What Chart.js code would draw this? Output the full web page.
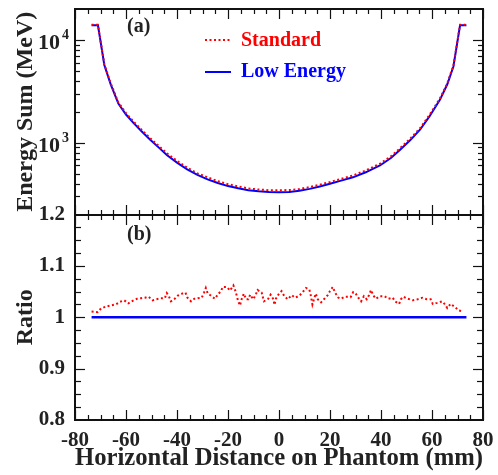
<!DOCTYPE html>
<html><head><meta charset="utf-8">
<script src="https://cdn.jsdelivr.net/npm/chart.js@4.4.0/dist/chart.umd.min.js"></script>
<style>html,body{margin:0;padding:0;background:#fff}#wrap{width:498px;height:475px;position:relative}</style>
</head><body><div id="wrap"><canvas id="c" width="498" height="475"></canvas></div>
<script>
// ---- data ----
const energyX = [-73.5,-71,-68.5,-66,-63,-60,-57,-54,-50.5,-47,-44,-40,-36,-32,-28,-24,-20,-16,-12,-8,-4,0,4,8,12,16,20,24,29,34,39.6,44,47.5,51.5,55.3,59,63.1,66,68.4,71,73.5];
const energyLow = [13900,13900,5700,3700,2400,1880,1550,1300,1070,890,760,640,550,485,440,405,378,360,345,336,331,330,332,340,355,375,398,425,460,515,600,712,855,1060,1337,1800,2610,3700,5510,13900,13900];
const energyStd = [14050,14050,5800,3790,2470,1940,1600,1345,1105,922,790,665,572,503,460,422,394,375,359,350,345,344,346,354,370,390,414,442,479,536,624,740,885,1097,1382,1860,2690,3790,5620,14050,14050];

const ratioX = [-73.5,-71.1,-69.8,-67.8,-65.9,-64.0,-62.4,-60.7,-59.1,-57.4,-55.7,-54.1,-52.5,-51.2,-49.5,-48.2,-46.4,-44.8,-44.0,-43.2,-42.4,-41.1,-39.7,-38.0,-36.7,-35.9,-34.5,-33.2,-31.9,-30.3,-29.4,-28.7,-28.0,-26.5,-25.1,-23.9,-22.7,-22.1,-20.5,-19.2,-17.9,-17.0,-16.0,-15.3,-14.6,-13.8,-12.9,-12.0,-11.3,-10.1,-9.1,-8.4,-6.8,-5.9,-4.2,-3.3,-2.2,-1.8,-1.2,0.0,1.0,2.0,3.4,5.0,6.3,8.0,9.3,10.6,11.9,12.4,13.1,13.7,14.4,15.2,16.5,17.8,19.1,20.0,21.1,22.0,23.3,24.3,25.9,27.0,28.1,29.1,30.1,31.1,32.2,33.3,34.4,35.3,36.1,36.9,38.0,39.6,41.3,42.9,44.6,45.5,47.1,47.8,48.7,50.5,52.4,54.4,56.2,57.9,59.5,60.3,62.1,64.0,65.1,66.0,67.3,69.0,70.6,72.3];
const ratioStd = [1.011,1.010,1.017,1.021,1.023,1.025,1.030,1.033,1.027,1.032,1.036,1.037,1.038,1.040,1.033,1.035,1.037,1.037,1.047,1.041,1.031,1.035,1.042,1.046,1.048,1.038,1.031,1.036,1.037,1.038,1.048,1.057,1.047,1.041,1.036,1.045,1.051,1.059,1.059,1.052,1.062,1.050,1.031,1.023,1.036,1.046,1.035,1.035,1.044,1.035,1.044,1.053,1.048,1.031,1.036,1.044,1.035,1.024,1.036,1.046,1.051,1.042,1.035,1.043,1.038,1.042,1.049,1.057,1.054,1.044,1.025,1.035,1.046,1.035,1.029,1.036,1.043,1.051,1.059,1.048,1.038,1.036,1.040,1.040,1.039,1.049,1.046,1.038,1.031,1.041,1.035,1.043,1.053,1.043,1.036,1.041,1.041,1.036,1.038,1.031,1.026,1.035,1.040,1.036,1.033,1.035,1.038,1.035,1.035,1.026,1.028,1.031,1.025,1.018,1.026,1.020,1.013,1.011];
const ratioLowX = [-73.5, 73.5];
const ratioLow = [1, 1];

const seriesNames = ['Standard', 'Low Energy'];
const panelLabels = ['(a)', '(b)'];
const logTickValues = [1000, 10000];
const logTickExps = ['3', '4'];
const xTitle = 'Horizontal Distance on Phantom (mm)';
const yTopTitle = 'Energy Sum (MeV)';
const yBotTitle = 'Ratio';

const RED = '#ff0000', BLUE = '#0000ff', INK = '#222222';
const FONT = '"Liberation Serif", "Times New Roman", serif';

const pts = (xs, ys) => xs.map((v, i) => ({x: v, y: ys[i]}));

const decor = {
  id: 'decor',
  afterDatasetsDraw(chart) {
    const ctx = chart.ctx, a = chart.chartArea;
    const x = chart.scales.x, yT = chart.scales.yTop, yB = chart.scales.yBot;
    const mid = Math.round(yT.bottom);
    const line = (x1, y1, x2, y2) => { ctx.beginPath(); ctx.moveTo(x1, y1); ctx.lineTo(x2, y2); ctx.stroke(); };
    ctx.save();
    ctx.strokeStyle = '#111'; ctx.lineWidth = 1.2;
    // x ticks
    for (let v = -80; v <= 80; v += 5) {
      const px = Math.round(x.getPixelForValue(v)) + 0.5;
      const L = (v % 20 === 0) ? 10 : 5;
      line(px, a.top, px, a.top + L);
      line(px, mid - L, px, mid + L);
      line(px, a.bottom - L, px, a.bottom);
    }
    // log ticks (top panel)
    for (const d of [100, 1000, 10000]) {
      for (let k = 1; k <= 9; k++) {
        const v = k * d;
        if (v <= 200 || v >= 20000) continue;
        const py = Math.round(yT.getPixelForValue(v)) + 0.5;
        const L = (k === 1) ? 10 : 5;
        line(a.left, py, a.left + L, py);
        line(a.right - L, py, a.right, py);
      }
    }
    // linear ticks (bottom panel)
    for (let i = 1; i < 16; i++) {
      const v = 0.8 + i * 0.025;
      const py = Math.round(yB.getPixelForValue(v)) + 0.5;
      const L = (i % 4 === 0) ? 10 : 6;
      line(a.left, py, a.left + L, py);
      line(a.right - L, py, a.right, py);
    }
    // frame
    ctx.lineWidth = 2; ctx.strokeStyle = '#111';
    ctx.strokeRect(a.left, a.top, a.right - a.left, a.bottom - a.top);
    line(a.left, mid, a.right, mid);

    // log tick labels with superscripts
    ctx.fillStyle = INK;
    logTickValues.forEach((v, i) => {
      const py = yT.getPixelForValue(v);
      ctx.font = 'bold 22px ' + FONT;
      ctx.textAlign = 'right'; ctx.textBaseline = 'alphabetic';
      ctx.fillText('10', 60, py + 9);
      ctx.font = 'bold 14px ' + FONT;
      ctx.textAlign = 'left';
      ctx.fillText(logTickExps[i], 62, py - 1);
    });

    // panel labels
    ctx.font = 'bold 20px ' + FONT;
    ctx.textAlign = 'left'; ctx.textBaseline = 'middle';
    ctx.fillText(panelLabels[0], 127, 27);
    ctx.fillText(panelLabels[1], 127, 235);

    // legend
    ctx.lineWidth = 2;
    ctx.strokeStyle = RED; ctx.setLineDash([2, 2.5]);
    line(205, 40, 231, 40);
    ctx.setLineDash([]);
    ctx.strokeStyle = BLUE;
    line(205, 72, 231, 72);
    ctx.font = 'bold 20px ' + FONT;
    ctx.fillStyle = RED; ctx.fillText(seriesNames[0], 241, 41);
    ctx.fillStyle = BLUE; ctx.fillText(seriesNames[1], 241, 72);
    ctx.restore();
  }
};

const fixW = (w) => (s) => { s.width = w; s.paddingTop = 0; s.paddingBottom = 0; };

new Chart(document.getElementById('c'), {
  type: 'line',
  data: {
    datasets: [
      {label: seriesNames[1], data: pts(energyX, energyLow), yAxisID: 'yTop', borderColor: BLUE, borderWidth: 2, pointRadius: 0, tension: 0, order: 2},
      {label: seriesNames[0], data: pts(energyX, energyStd), yAxisID: 'yTop', borderColor: RED, borderWidth: 2, borderDash: [2, 2.5], pointRadius: 0, tension: 0, order: 1},
      {label: seriesNames[1] + ' ratio', data: pts(ratioLowX, ratioLow), yAxisID: 'yBot', borderColor: BLUE, borderWidth: 2.5, pointRadius: 0, tension: 0, order: 2},
      {label: seriesNames[0] + ' ratio', data: pts(ratioX, ratioStd), yAxisID: 'yBot', borderColor: RED, borderWidth: 2, borderDash: [2, 2.5], pointRadius: 0, tension: 0, order: 1}
    ]
  },
  options: {
    responsive: false, animation: false, devicePixelRatio: 1,
    layout: {padding: {top: 9, right: 15, left: 0, bottom: 0}},
    plugins: {legend: {display: false}, tooltip: {enabled: false}},
    scales: {
      x: {
        type: 'linear', min: -80, max: 80,
        grid: {display: false, drawTicks: false}, border: {display: false},
        ticks: {stepSize: 20, color: INK, padding: 8, font: {family: FONT, weight: 'bold', size: 21}},
        title: {display: true, text: xTitle, color: INK, padding: {top: 0, bottom: 1}, font: {family: FONT, weight: 'bold', size: 25}},
        afterFit: (s) => { s.height = 55; s.paddingLeft = 0; s.paddingRight = 0; }
      },
      yBot: {
        type: 'linear', position: 'left', stack: 'v', stackWeight: 1, weight: 0,
        min: 0.8, max: 1.2,
        grid: {display: false, drawTicks: false}, border: {display: false},
        ticks: {stepSize: 0.1, color: INK, padding: 10, font: {family: FONT, weight: 'bold', size: 21},
                callback: (v) => String(Number(v.toFixed(2)))},
        title: {display: true, text: yBotTitle, color: INK, padding: {top: 11, bottom: 0}, font: {family: FONT, weight: 'bold', size: 24}},
        afterFit: fixW(75)
      },
      yTop: {
        type: 'logarithmic', position: 'left', stack: 'v', stackWeight: 1, weight: 1,
        min: 200, max: 20000,
        grid: {display: false, drawTicks: false}, border: {display: false},
        ticks: {display: false},
        title: {display: true, text: yTopTitle, color: INK, padding: {top: 11, bottom: 0}, font: {family: FONT, weight: 'bold', size: 24}},
        afterFit: fixW(75)
      }
    }
  },
  plugins: [decor]
});
</script>
</body></html>
